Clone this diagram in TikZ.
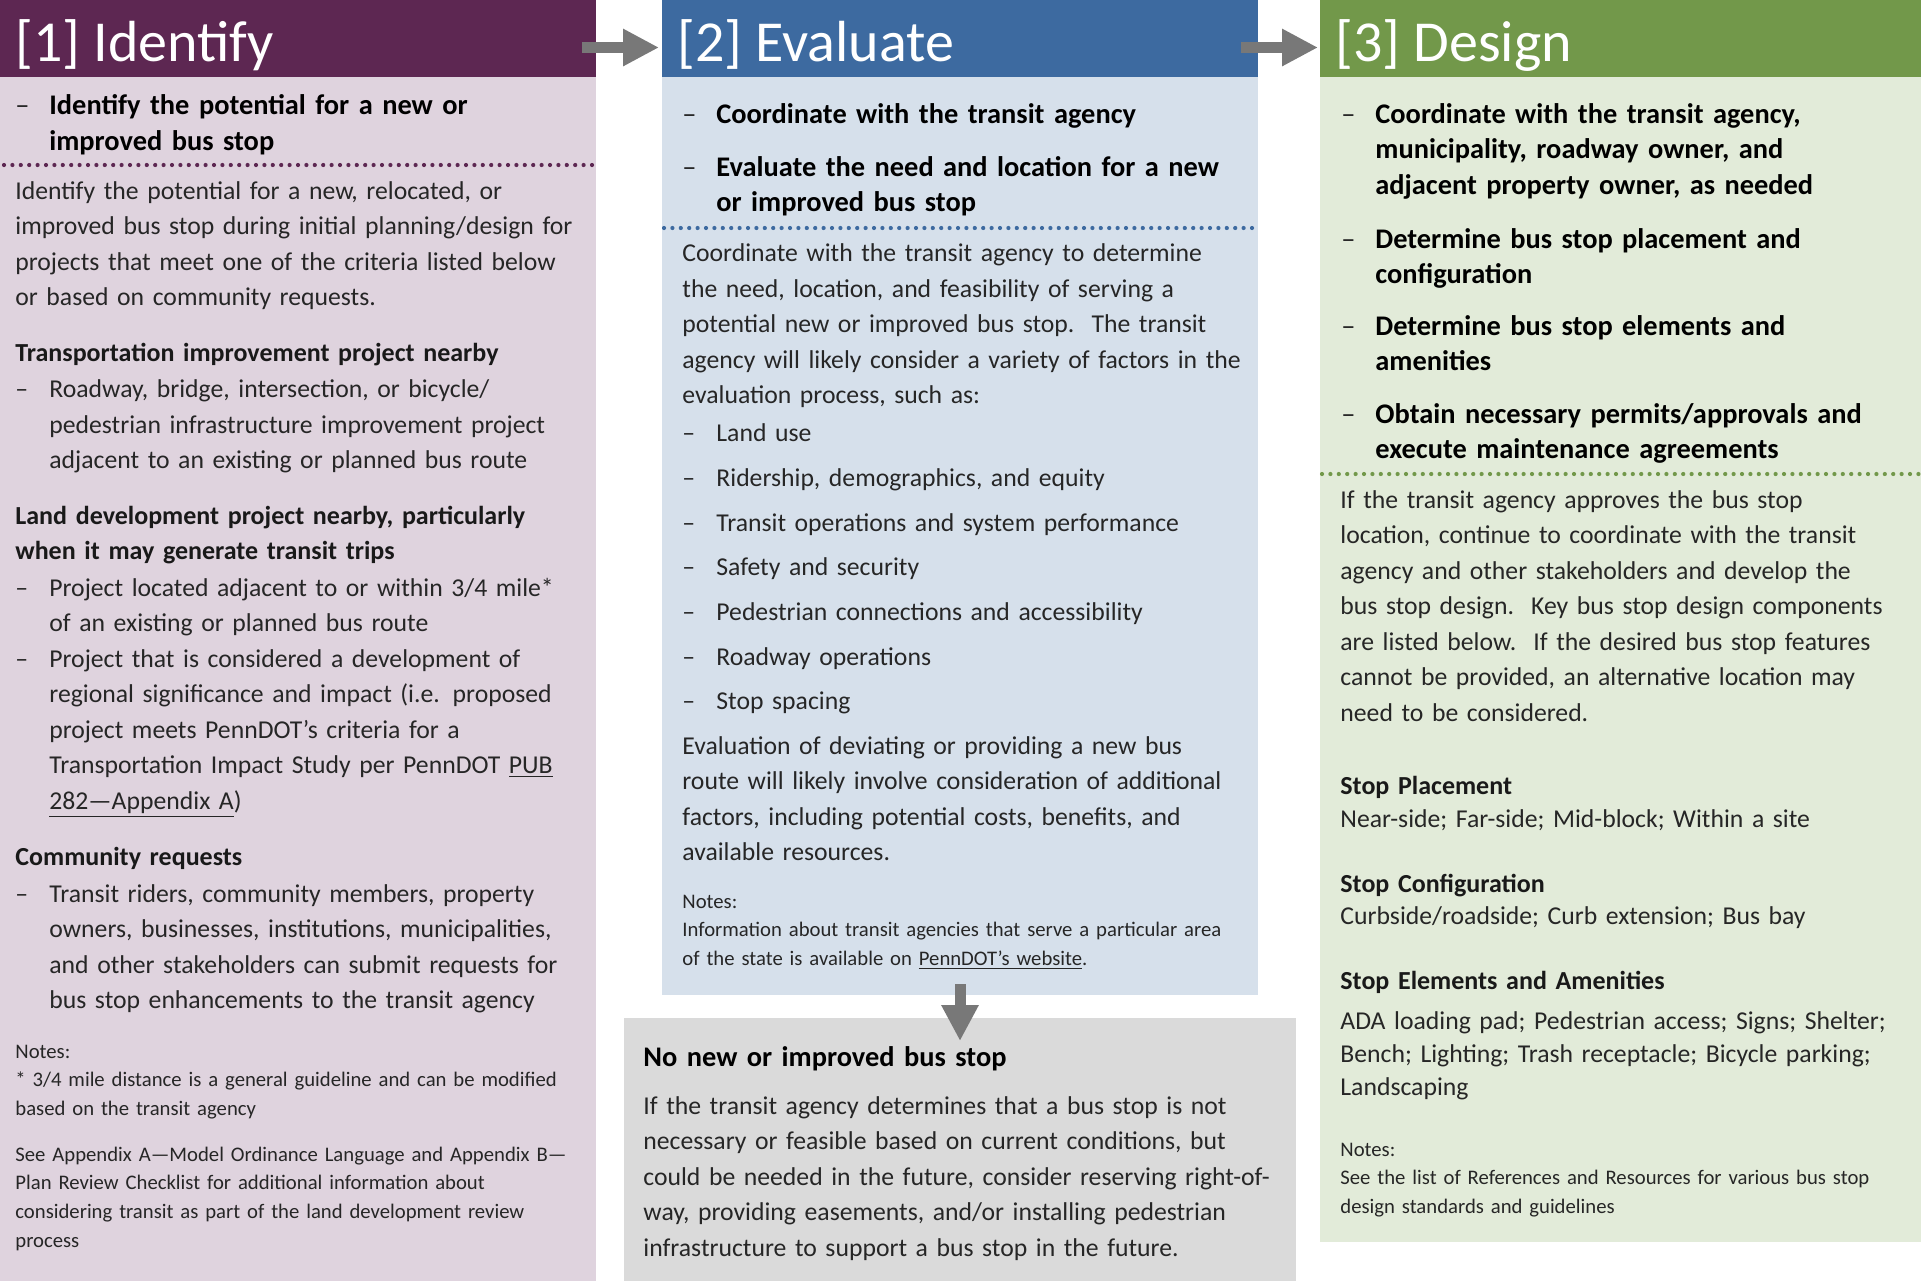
\documentclass[tikz,border=0pt]{standalone}
\usepackage{fontspec}
\setmainfont{Carlito}
\usetikzlibrary{arrows.meta}

\definecolor{idhead}{HTML}{5D2752}
\definecolor{idbody}{HTML}{DFD3DE}
\definecolor{evhead}{HTML}{3D6AA0}
\definecolor{evbody}{HTML}{D6E0EB}
\definecolor{dshead}{HTML}{72984A}
\definecolor{dsbody}{HTML}{E2EBD9}
\definecolor{nobody}{HTML}{DADADA}
\definecolor{arrowgray}{HTML}{787878}
\definecolor{bodyink}{HTML}{262626}

% dash item with hanging indent
\newcommand{\ditem}[1]{\begingroup\let\\\newline\hangindent=17pt\hangafter=1\makebox[17pt][l]{\mdseries\color{bodyink}–}#1\par\endgroup}

\tikzset{
  panel/.style={anchor=north west, inner sep=0pt, outer sep=0pt},
  headtxt/.style={anchor=base west, inner sep=0pt, text=white, font=\fontsize{29}{34}\selectfont},
  bodytxt/.style={anchor=base west, inner sep=0pt, text width=320pt, align=left, text=bodyink, font=\fontsize{12.85}{17.75}\selectfont},
  boldtxt/.style={bodytxt, text=black, font=\fontsize{14.2}{17.9}\selectfont\bfseries},
  subtxt/.style={bodytxt, text=black!90, font=\fontsize{13}{17.75}\selectfont\bfseries},
  notetxt/.style={bodytxt, font=\fontsize{10.35}{14.4}\selectfont},
  dotline/.style={line width=2.1pt, dash pattern=on 0pt off 4.2pt, line cap=round},
  flowarrow/.style={draw=arrowgray, line width=5.5pt, -{Triangle[length=18pt,width=17.5pt]}},
}

\begin{document}
\begin{tikzpicture}[x=0.5pt,y=-0.5pt]
    \useasboundingbox (0,0) rectangle (1921,1281);

    % Panels
    \node[panel, fill=idbody, minimum width=298pt, minimum height=602pt] (body1) at (0,77) {};
    \node[panel, fill=idhead, minimum width=298pt, minimum height=38.5pt] (head1) at (0,0) {};
    \node[panel, fill=evbody, minimum width=298pt, minimum height=459pt] (body2) at (662,77) {};
    \node[panel, fill=evhead, minimum width=298pt, minimum height=38.5pt] (head2) at (662,0) {};
    \node[panel, fill=dsbody, minimum width=300.5pt, minimum height=582.5pt] (body3) at (1320,77) {};
    \node[panel, fill=dshead, minimum width=300.5pt, minimum height=38.5pt] (head3) at (1320,0) {};
    \node[panel, fill=nobody, minimum width=336pt, minimum height=131.5pt] (nobox) at (624,1018) {};

    % Headers
    \node[headtxt] (title1) at (15,61) {[1] Identify};
    \node[headtxt] (title2) at (677,61) {[2] Evaluate};
    \node[headtxt] (title3) at (1335,61) {[3] Design};

    % Arrows
    \draw[flowarrow] ([shift={(-14,9)}]head1.east) -- ([shift={(-3,9)}]head2.west);
    \draw[flowarrow] ([shift={(-17,9)}]head2.east) -- ([shift={(-2,9)}]head3.west);
    \draw[flowarrow] ([yshift=5.5pt]body2.south) -- ([yshift=-11.5pt]nobox.north);

    % [1] Identify
    \node[boldtxt] (i1) at (15,114.5) {\ditem{Identify the potential for a new or\\ improved bus stop}};
    \draw[dotline, draw=idhead] (4,165) -- (594,165);
    \node[bodytxt] (p1) at (15,199) {Identify the potential for a new, relocated, or\\ improved bus stop during initial planning/design for\\ projects that meet one of the criteria listed below\\ or based on community requests.};
    \node[subtxt] (h1a) at (15,361) {Transportation improvement project nearby};
    \node[bodytxt] (i1a) at (15,397.5) {\ditem{Roadway, bridge, intersection, or bicycle/\\ pedestrian infrastructure improvement project\\ adjacent to an existing or planned bus route}};
    \node[subtxt] (h1b) at (15,524) {Land development project nearby, particularly\\ when it may generate transit trips};
    \node[bodytxt] (i1b) at (15,596) {\ditem{Project located adjacent to or within 3/4 mile*\\ of an existing or planned bus route}};
    \node[bodytxt] (i1c) at (15,667) {\ditem{Project that is considered a development of\\ regional significance and impact (i.e. proposed\\ project meets PennDOT’s criteria for a\\ Transportation Impact Study per PennDOT \underline{PUB}\\ \underline{282—Appendix A})}};
    \node[subtxt] (h1c) at (15,865.5) {Community requests};
    \node[bodytxt] (i1d) at (15,902) {\ditem{Transit riders, community members, property\\ owners, businesses, institutions, municipalities,\\ and other stakeholders can submit requests for\\ bus stop enhancements to the transit agency}};
    \node[notetxt] (n1a) at (15,1058) {Notes:\\ {}* 3/4 mile distance is a general guideline and can be modified\\ based on the transit agency};
    \node[notetxt] (n1b) at (15,1161) {See Appendix A—Model Ordinance Language and Appendix B—\\ Plan Review Checklist for additional information about\\ considering transit as part of the land development review\\ process};

    % [2] Evaluate
    \node[boldtxt] (i2a) at (682,123) {\ditem{Coordinate with the transit agency}};
    \node[boldtxt] (i2b) at (682,176) {\ditem{Evaluate the need and location for a new\\ or improved bus stop}};
    \draw[dotline, draw=evhead] (664,228) -- (1256,228);
    \node[bodytxt] (p2a) at (682,261.5) {Coordinate with the transit agency to determine\\ the need, location, and feasibility of serving a\\ potential new or improved bus stop.\ \ The transit\\ agency will likely consider a variety of factors in the\\ evaluation process, such as:};
    \foreach \fac [count=\i] in {Land use, {Ridership, demographics, and equity}, Transit operations and system performance, Safety and security, Pedestrian connections and accessibility, Roadway operations, Stop spacing} {
        \node[bodytxt] (f\i) at (682,{441.6+44.7*(\i-1)}) {\ditem{\fac}};
    }
    \node[bodytxt] (p2b) at (682,754) {Evaluation of deviating or providing a new bus\\ route will likely involve consideration of additional\\ factors, including potential costs, benefits, and\\ available resources.};
    \node[notetxt] (n2) at (682,908) {Notes:\\ Information about transit agencies that serve a particular area\\ of the state is available on \underline{PennDOT’s website}.};

    % No new stop
    \node[boldtxt] (nohead) at (643,1066) {No new or improved bus stop};
    \node[bodytxt] (nopara) at (643,1114) {If the transit agency determines that a bus stop is not\\ necessary or feasible based on current conditions, but\\ could be needed in the future, consider reserving right-of-\\ way, providing easements, and/or installing pedestrian\\ infrastructure to support a bus stop in the future.};

    % [3] Design
    \node[boldtxt] (i3a) at (1341,123) {\ditem{Coordinate with the transit agency,\\ municipality, roadway owner, and\\ adjacent property owner, as needed}};
    \node[boldtxt] (i3b) at (1341,248) {\ditem{Determine bus stop placement and\\ configuration}};
    \node[boldtxt] (i3c) at (1341,335) {\ditem{Determine bus stop elements and\\ amenities}};
    \node[boldtxt] (i3d) at (1341,423) {\ditem{Obtain necessary permits/approvals and\\ execute maintenance agreements}};
    \draw[dotline, draw=dshead] (1322,474) -- (1919,474);
    \node[bodytxt] (p3) at (1340,508) {If the transit agency approves the bus stop\\ location, continue to coordinate with the transit\\ agency and other stakeholders and develop the\\ bus stop design.\ \ Key bus stop design components\\ are listed below.\ \ If the desired bus stop features\\ cannot be provided, an alternative location may\\ need to be considered.};
    \node[subtxt] (s3a) at (1340,794.5) {Stop Placement};
    \node[bodytxt] (t3a) at (1340,827.5) {Near-side; Far-side; Mid-block; Within a site};
    \node[subtxt] (s3b) at (1340,892) {Stop Configuration};
    \node[bodytxt] (t3b) at (1340,924) {Curbside/roadside; Curb extension; Bus bay};
    \node[subtxt] (s3c) at (1340,989) {Stop Elements and Amenities};
    \node[bodytxt, font=\fontsize{12.85}{16.5}\selectfont] (t3c) at (1340,1029.6) {ADA loading pad; Pedestrian access; Signs; Shelter;\\ Bench; Lighting; Trash receptacle; Bicycle parking;\\ Landscaping};
    \node[notetxt] (n3) at (1340,1156) {Notes:\\ See the list of References and Resources for various bus stop\\ design standards and guidelines};
\end{tikzpicture}
\end{document}
